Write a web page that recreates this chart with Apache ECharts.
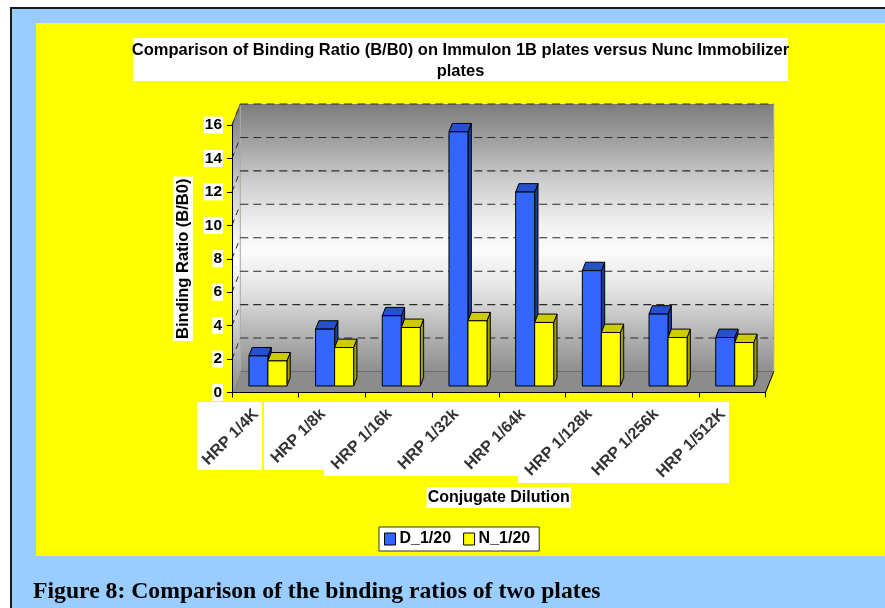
<!DOCTYPE html>
<html>
<head>
<meta charset="utf-8">
<script src="https://cdn.jsdelivr.net/npm/echarts@6/dist/echarts.min.js"></script>
<style>
  html, body { margin: 0; padding: 0; background: #ffffff; }
  #chart { width: 885px; height: 608px; }
</style>
</head>
<body>
<div id="chart"></div>
<script>
// ---- data ----
const categories = ['HRP 1/4K', 'HRP 1/8k', 'HRP 1/16k', 'HRP 1/32k', 'HRP 1/64k', 'HRP 1/128k', 'HRP 1/256k', 'HRP 1/512K'];
const seriesNames = ['D_1/20', 'N_1/20'];
const dValues = [1.8, 3.4, 4.2, 15.2, 11.6, 6.9, 4.3, 2.9];
const nValues = [1.5, 2.3, 3.5, 3.9, 3.8, 3.2, 2.9, 2.6];
const yMin = 0, yMax = 16, yStep = 2;

const titleText = 'Comparison of Binding Ratio (B/B0) on Immulon 1B plates versus Nunc Immobilizer\nplates';
const yAxisTitle = 'Binding Ratio (B/B0)';
const xAxisTitle = 'Conjugate Dilution';
const captionText = 'Figure 8: Comparison of the binding ratios of two plates';

// ---- pseudo 3-D geometry ----
const DEPTH = [8.3, -21];        // offset from the front edge of the floor to the back wall
const BAR_FRONT = 0.31;          // depth fraction where the bar fronts sit
const BAR_BACK = 0.71;           // depth fraction where the bar backs sit
const BAR_RATIO = 0.285;         // width of one bar relative to a category band

const FONT = 'Liberation Sans';

const faceColors = [
  { front: '#3366ff', top: '#2552cc', side: '#1c3c9c' },
  { front: '#ffff00', top: '#cccc00', side: '#9e9e00' }
];

// white panels behind the rotated category labels
const labelPanels = [
  [197, 402, 65, 68],
  [264, 402, 60, 68],
  [324, 402, 195, 74],
  [518, 402, 211, 81]
];

const wallFill = () => new echarts.graphic.LinearGradient(0, 0, 0, 1, [
  { offset: 0, color: '#7c7c7c' },
  { offset: 0.15, color: '#a4a4a4' },
  { offset: 0.3, color: '#d0d0d0' },
  { offset: 0.45, color: '#f0f0f0' },
  { offset: 0.55, color: '#fbfbfb' },
  { offset: 0.7, color: '#e2e2e2' },
  { offset: 0.85, color: '#b6b6b6' },
  { offset: 1, color: '#8e8e8e' }
]);

function renderWalls(params, api) {
  const cs = params.coordSys;
  const dx = DEPTH[0], dy = DEPTH[1];
  const x0 = cs.x, x1 = cs.x + cs.width;
  const yTop = cs.y, yBase = cs.y + cs.height;
  const kids = [];
  // back wall
  kids.push({ type: 'rect', shape: { x: x0 + dx, y: yTop + dy, width: cs.width, height: cs.height },
    style: { fill: wallFill(), stroke: null } });
  // left side wall
  kids.push({ type: 'polygon', shape: { points: [[x0, yBase], [x0, yTop], [x0 + dx, yTop + dy], [x0 + dx, yBase + dy]] },
    style: { fill: wallFill(), stroke: null } });
  // floor
  kids.push({ type: 'polygon', shape: { points: [[x0, yBase], [x1, yBase], [x1 + dx, yBase + dy], [x0 + dx, yBase + dy]] },
    style: { fill: '#8c8c8c', stroke: null } });
  // wall edges
  kids.push({ type: 'line', shape: { x1: x0 + dx, y1: yTop + dy, x2: x0 + dx, y2: yBase + dy }, style: { stroke: '#a8a8a8', lineWidth: 1 } });
  kids.push({ type: 'line', shape: { x1: x1 + dx, y1: yTop + dy, x2: x1 + dx, y2: yBase + dy }, style: { stroke: '#a8a8a8', lineWidth: 1 } });
  kids.push({ type: 'line', shape: { x1: x0 + dx, y1: yBase + dy, x2: x1 + dx, y2: yBase + dy }, style: { stroke: '#6e6e6e', lineWidth: 1 } });
  kids.push({ type: 'line', shape: { x1: x1, y1: yBase, x2: x1 + dx, y2: yBase + dy }, style: { stroke: '#000', lineWidth: 1 } });
  kids.push({ type: 'line', shape: { x1: x0, y1: yTop, x2: x0 + dx, y2: yTop + dy }, style: { stroke: '#555', lineWidth: 1 } });
  // dashed gridlines on back wall and side wall
  for (let v = yMin + yStep; v <= yMax; v += yStep) {
    const y = api.coord([0, v])[1];
    kids.push({ type: 'line', shape: { x1: x0 + dx, y1: y + dy, x2: x1 + dx, y2: y + dy },
      style: { stroke: '#2a2a2a', lineWidth: 1.1, lineDash: [8, 5] } });
    kids.push({ type: 'line', shape: { x1: x0, y1: y, x2: x0 + dx, y2: y + dy },
      style: { stroke: '#2a2a2a', lineWidth: 1, lineDash: [6, 5] } });
  }
  return { type: 'group', children: kids };
}

function makeBarRenderer(slot) {
  const c = faceColors[slot];
  return function (params, api) {
    const cat = api.value(0), val = api.value(1);
    const base = api.coord([cat, 0]);
    const top = api.coord([cat, val]);
    const band = api.size([1, 0])[0];
    const w = band * BAR_RATIO;
    const sx = DEPTH[0] * BAR_FRONT, sy = DEPTH[1] * BAR_FRONT;
    const bx = DEPTH[0] * (BAR_BACK - BAR_FRONT), by = DEPTH[1] * (BAR_BACK - BAR_FRONT);
    const xl = base[0] + sx + (slot === 0 ? -w : 0);
    const xr = xl + w;
    const yb = base[1] + sy, yt = top[1] + sy;
    const line = { stroke: '#000', lineWidth: 1, lineJoin: 'round' };
    return {
      type: 'group',
      children: [
        { type: 'polygon', shape: { points: [[xr, yt], [xr + bx, yt + by], [xr + bx, yb + by], [xr, yb]] },
          style: Object.assign({ fill: c.side }, line) },
        { type: 'polygon', shape: { points: [[xl, yt], [xr, yt], [xr + bx, yt + by], [xl + bx, yt + by]] },
          style: Object.assign({ fill: c.top }, line) },
        { type: 'rect', shape: { x: xl, y: yt, width: w, height: yb - yt },
          style: Object.assign({ fill: c.front }, line) }
      ]
    };
  };
}

const toPairs = arr => arr.map((v, i) => [i, v]);

const chart = echarts.init(document.getElementById('chart'), null, { renderer: 'canvas' });

const backdrop = [
  { type: 'rect', z: -20, shape: { x: 11, y: 8, width: 900, height: 620 },
    style: { fill: '#99ccff', stroke: '#1a1a1a', lineWidth: 2 } },
  { type: 'rect', z: -19, shape: { x: 36, y: 23, width: 870, height: 533 },
    style: { fill: '#ffff00' } },
  { type: 'rect', z: -18, shape: { x: 133, y: 38, width: 655, height: 43 },
    style: { fill: '#ffffff' } },
  { type: 'text', z: 50, x: 460.5, y: 60.5,
    style: { text: titleText, fill: '#000', font: 'bold 16.5px "' + FONT + '"', align: 'center', verticalAlign: 'middle', lineHeight: 21 } },
  { type: 'text', z: 50, x: 33, y: 592,
    style: { text: captionText, fill: '#000', font: 'bold 23.7px "Liberation Serif"', align: 'left', verticalAlign: 'middle' } }
].concat(labelPanels.map(p => ({
  type: 'rect', z: -17, shape: { x: p[0], y: p[1], width: p[2], height: p[3] }, style: { fill: '#ffffff' }
})));

chart.setOption({
  animation: false,
  graphic: backdrop,
  grid: { left: 232, right: 119.5, top: 125, bottom: 215.5, containLabel: false },
  legend: {
    data: seriesNames,
    left: 379, top: 527,
    padding: [4, 9, 4, 5],
    itemGap: 12,
    itemWidth: 11, itemHeight: 12,
    icon: 'rect',
    itemStyle: { borderColor: '#000', borderWidth: 1 },
    backgroundColor: '#ffffff',
    borderColor: '#333', borderWidth: 1,
    textStyle: { fontFamily: FONT, fontWeight: 'bold', fontSize: 16, color: '#000', padding: [0, 0, 0, -1] }
  },
  xAxis: {
    type: 'category',
    data: categories,
    boundaryGap: true,
    z: 3,
    axisLine: { show: true, lineStyle: { color: '#000', width: 1 } },
    axisTick: { show: true, length: 5, lineStyle: { color: '#000' } },
    axisLabel: { interval: 0, rotate: 45, margin: 10, padding: [0, 13, 0, 0],
      fontFamily: FONT, fontWeight: 'bold', fontSize: 16, color: '#333' },
    splitLine: { show: false },
    name: xAxisTitle,
    nameLocation: 'middle',
    nameGap: 94.5,
    nameTextStyle: { fontFamily: FONT, fontWeight: 'bold', fontSize: 16, color: '#000',
      backgroundColor: '#ffffff', padding: [3, 1, 2, 1] }
  },
  yAxis: {
    type: 'value',
    min: yMin, max: yMax, interval: yStep,
    z: 3,
    axisLine: { show: true, lineStyle: { color: '#000', width: 1 } },
    axisTick: { show: true, length: 5, lineStyle: { color: '#000' } },
    axisLabel: { margin: 9, fontFamily: FONT, fontWeight: 'bold', fontSize: 15.5, color: '#000',
      backgroundColor: '#ffffff', padding: [1, 1, 0, 1] },
    splitLine: { show: false },
    name: yAxisTitle,
    nameLocation: 'middle',
    nameRotate: 90,
    nameGap: 32,
    nameTextStyle: { fontFamily: FONT, fontWeight: 'bold', fontSize: 16.5, color: '#000',
      backgroundColor: '#ffffff', padding: [2, 2, 1, 2] }
  },
  series: [
    { type: 'custom', name: 'walls', z: 1, silent: true, renderItem: renderWalls, data: [[0, 0]],
      encode: { x: 0, y: 1 } },
    { type: 'custom', name: seriesNames[0], z: 4, renderItem: makeBarRenderer(0), data: toPairs(dValues),
      encode: { x: 0, y: 1 }, itemStyle: { color: faceColors[0].front } },
    { type: 'custom', name: seriesNames[1], z: 5, renderItem: makeBarRenderer(1), data: toPairs(nValues),
      encode: { x: 0, y: 1 }, itemStyle: { color: faceColors[1].front } }
  ]
});
</script>
</body>
</html>
